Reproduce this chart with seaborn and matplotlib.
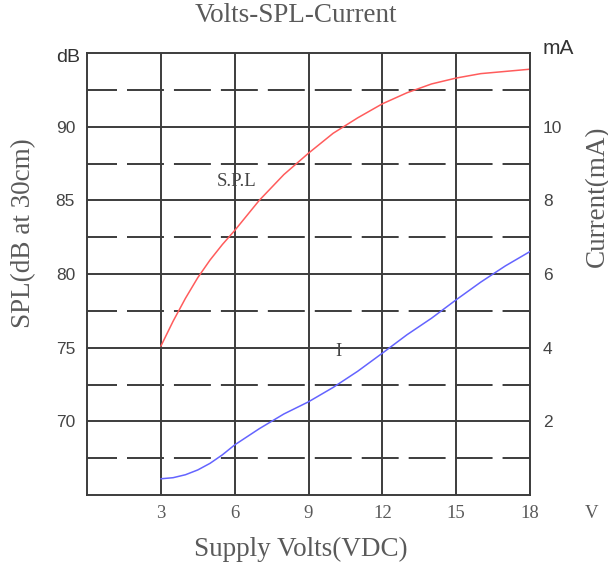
import matplotlib
matplotlib.use("Agg")
import matplotlib.pyplot as plt
from matplotlib.ticker import FixedLocator
import seaborn as sns
import pandas as pd

# ---- data ----
volts = [3, 3.5, 4, 4.5, 5, 5.5, 6, 7, 8, 9, 10, 11, 12, 13, 14, 15, 16, 17, 18]
spl_db = [75.1, 76.8, 78.35, 79.75, 80.95, 82.0, 82.95, 85.0, 86.75, 88.2,
          89.55, 90.6, 91.55, 92.3, 92.9, 93.3, 93.6, 93.75, 93.9]
current_ma = [0.44, 0.47, 0.55, 0.68, 0.86, 1.09, 1.36, 1.80, 2.20, 2.53,
              2.92, 3.36, 3.85, 4.35, 4.80, 5.30, 5.78, 6.22, 6.61]
x_ticks = [3, 6, 9, 12, 15, 18]
db_ticks = [70, 75, 80, 85, 90]
db_minor = [67.5, 72.5, 77.5, 82.5, 87.5, 92.5]
ma_ticks = [2, 4, 6, 8, 10]

sns.set_theme(style="white")
plt.rcParams['font.family'] = ['Liberation Sans', 'DejaVu Sans']
plt.rcParams['lines.scale_dashes'] = False

SERIF = ['Liberation Serif', 'DejaVu Serif']
GRID = '#3c3c3c'
TXT = '#5a5a5a'

df = pd.DataFrame({'Volts': volts, 'SPL': spl_db, 'Current': current_ma})

fig = plt.figure(figsize=(6.08, 5.66), dpi=100)
ax = fig.add_axes([87 / 608, 1 - 495 / 566, 443 / 608, 442 / 566])
ax.set_facecolor('white')
ax.set_axisbelow(True)

ax.set_xlim(0, 18)
ax.set_ylim(65, 95)
ax.set_xticks(x_ticks)
ax.set_yticks(db_ticks)
ax.yaxis.set_minor_locator(FixedLocator(db_minor))

ax.grid(True, axis='x', which='major', color=GRID, lw=1.4)
ax.grid(True, axis='y', which='major', color=GRID, lw=1.4)
ax.grid(True, axis='y', which='minor', color=GRID, lw=1.4,
        linestyle=(5, (26.6, 7.2)))

for s in ax.spines.values():
    s.set_color(GRID)
    s.set_linewidth(1.4)

ax.tick_params(axis='y', which='both', length=0, pad=8.6,
               labelsize=12.5, labelcolor='#444444')
ax.tick_params(axis='x', which='both', length=0, pad=7)
for lab in ax.get_xticklabels():
    lab.set_fontfamily(SERIF)
    lab.set_fontsize(13.5)
    lab.set_color(TXT)

sns.lineplot(data=df, x='Volts', y='SPL', ax=ax, color='#ff5c5c', lw=1.1)

ax2 = ax.twinx()
ax2.set_ylim(0, 12)
ax2.set_yticks(ma_ticks)
ax2.grid(False)
for s in ax2.spines.values():
    s.set_visible(False)
sns.lineplot(data=df, x='Volts', y='Current', ax=ax2, color='#6464ff', lw=1.1)
ax2.tick_params(axis='y', length=0, pad=9.4, labelsize=12.5,
                labelcolor='#444444')

# axis labels
ax.set_xlabel('Supply Volts(VDC)', fontfamily=SERIF, fontsize=19.5,
              color=TXT, va='center')
ax.xaxis.set_label_coords((301 - 87) / 443, (495 - 549) / 442)
ax.set_ylabel('SPL(dB at 30cm)', fontfamily=SERIF, fontsize=19.5,
              color=TXT, va='center')
ax.yaxis.set_label_coords((24 - 87) / 443, (495 - 233) / 442)
ax2.set_ylabel('Current(mA)', fontfamily=SERIF, fontsize=19.5,
               color=TXT, va='center', rotation=90)
ax2.yaxis.set_label_coords((597 - 87) / 443, (495 - 196) / 442)

ax.set_title('Volts-SPL-Current', fontfamily=SERIF, fontsize=19.5,
             color=TXT, va='center', x=(296 - 87) / 443,
             y=(495 - 16) / 442, pad=0)

# unit marks
ax.text((80 - 87) / 443, (495 - 57) / 442, 'dB', transform=ax.transAxes,
        ha='right', va='center', fontsize=14, color='#333333')
ax.text((543 - 87) / 443, (495 - 48) / 442, 'mA', transform=ax.transAxes,
        ha='left', va='center', fontsize=15, color='#333333')
ax.text((592 - 87) / 443, (495 - 513) / 442, 'V', transform=ax.transAxes,
        ha='center', va='center', fontsize=13.5, color=TXT, fontfamily=SERIF)

# curve labels
ax.text(6.07, 86.28, 'S.P.L', ha='center', va='center', fontsize=13.5,
        color='#444444', fontfamily=SERIF)
ax.text(10.22, 74.74, 'I', ha='center', va='center', fontsize=13.5,
        color='#444444', fontfamily=SERIF)

fig.savefig('out.png', dpi=100)
